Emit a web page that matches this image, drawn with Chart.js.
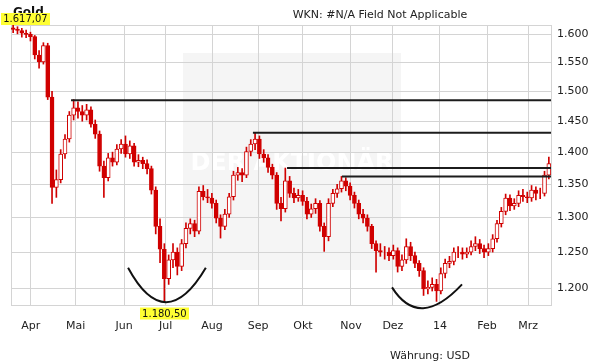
<!DOCTYPE html>
<html>
<head>
<meta charset="utf-8">
<script src="https://cdn.jsdelivr.net/npm/chart.js@4.4.1/dist/chart.umd.min.js"></script>
<style>
  html, body { margin: 0; padding: 0; background: #fff; }
  #wrap { position: relative; width: 611px; height: 364px; }
</style>
</head>
<body>
<div id="wrap"><canvas id="chart" width="611" height="364"></canvas></div>
<script>
// --- Gold, 1 Jahr, Kerzen je 2 Handelstage (USD) ---
const opens = [1612,1609,1607,1602,1600,1596,1563,1551,1580,1490,1345,1357,1397,1421,1460,1472,1466,1460,1469,1445,
  1429,1378,1360,1391,1384,1405,1413,1397,1410,1384,1387,1382,1374,1341,1287,1254,1213,1239,1250,1230,
  1262,1284,1291,1280,1339,1331,1329,1321,1299,1287,1305,1331,1364,1368,1364,1401,1413,1421,1397,1391,
  1376,1364,1321,1313,1355,1336,1329,1333,1324,1305,1313,1321,1287,1272,1321,1336,1343,1355,1347,1333,
  1321,1305,1299,1287,1262,1252,1250,1250,1245,1252,1230,1239,1258,1245,1234,1224,1199,1201,1205,1196,
  1220,1234,1237,1250,1250,1247,1250,1258,1262,1255,1250,1255,1269,1291,1309,1329,1317,1321,1333,1331,
  1329,1341,1336,1336,1364];
const highs = [1617.07,1614,1611,1608,1604,1598,1571,1585,1584,1500,1372,1404,1428,1466,1486,1482,1476,1478,1474,1452,
  1434,1386,1398,1400,1412,1420,1426,1418,1414,1396,1392,1388,1378,1346,1298,1262,1246,1262,1256,1268,
  1292,1298,1296,1346,1348,1342,1336,1326,1304,1312,1336,1370,1376,1374,1408,1420,1431,1426,1404,1396,
  1381,1368,1330,1375,1362,1344,1342,1340,1330,1320,1328,1325,1292,1328,1342,1350,1362,1360,1352,1338,
  1326,1312,1304,1290,1266,1262,1258,1256,1260,1256,1246,1269,1264,1250,1238,1228,1210,1214,1212,1228,
  1240,1244,1256,1258,1256,1256,1266,1272,1268,1260,1262,1275,1296,1315,1335,1334,1328,1340,1342,1338,
  1348,1346,1344,1370,1392];
const lows = [1603,1601,1595,1594,1588,1556,1540,1547,1486,1321,1330,1352,1390,1416,1452,1455,1450,1452,1440,1422,
  1370,1330,1355,1378,1380,1398,1392,1390,1378,1377,1374,1366,1335,1276,1235,1180.5,1205,1228,1218,1224,
  1256,1276,1272,1276,1326,1322,1314,1292,1270,1282,1300,1326,1356,1354,1360,1394,1404,1390,1384,1368,
  1358,1312,1295,1308,1330,1322,1324,1318,1298,1300,1306,1280,1251,1266,1316,1330,1338,1340,1326,1314,
  1298,1292,1280,1255,1222,1244,1240,1238,1240,1222,1224,1234,1238,1228,1216,1190,1192,1196,1182,1192,
  1214,1228,1232,1242,1240,1242,1246,1252,1248,1242,1245,1250,1264,1286,1304,1310,1312,1316,1324,1322,
  1324,1326,1328,1332,1358];
const closes = [1609,1607,1602,1600,1596,1563,1551,1580,1490,1345,1357,1397,1421,1460,1472,1466,1460,1469,1445,1429,
  1378,1360,1391,1384,1405,1413,1397,1410,1384,1387,1382,1374,1341,1287,1254,1213,1239,1250,1230,1262,
  1284,1291,1280,1339,1331,1329,1321,1299,1287,1305,1331,1364,1368,1364,1401,1413,1421,1397,1391,1376,
  1364,1321,1313,1355,1336,1329,1333,1324,1305,1313,1321,1287,1272,1321,1336,1343,1355,1347,1333,1321,
  1305,1299,1287,1262,1252,1250,1250,1245,1252,1230,1239,1258,1245,1234,1224,1199,1201,1205,1196,1220,
  1234,1237,1250,1250,1247,1250,1258,1262,1255,1250,1255,1269,1291,1309,1329,1317,1321,1333,1331,1329,
  1341,1336,1336,1364,1382];

// month ticks (position in candle index units)
const monthLabels = ['Apr','Mai','Jun','Jul','Aug','Sep','Okt','Nov','Dez','14','Feb','Mrz'];
const monthPos = [4.06,14.48,25.66,35.31,46.03,56.68,67.09,78.2,87.9,98.8,109.7,119.2];
const yTicks = [1200,1250,1300,1350,1400,1450,1500,1550,1600];

// Widerstandslinien: Start (Index) und Niveau
const resistStart = [13.4,55.5,63.4,76.1];
const resistLevel = [1485,1431,1375,1362];

// Boden-Boegen (Annotation)
const arcs = [
  { from: 26.6, to: 44.6, mid: 35.4, fromVal: 1228, toVal: 1228, low: 1181 },
  { from: 87.7, to: 103.9, mid: 94.9, fromVal: 1201, toVal: 1205, low: 1173 }
];

const RED = '#d00000';
const GRID = '#d4d4d4';

const fmtThousand = (v) => {
  const s = String(Math.round(v));
  return s.length > 3 ? s.slice(0, -3) + '.' + s.slice(-3) : s;
};
const fmtPrice = (v) => {
  const [i, d] = v.toFixed(2).split('.');
  return fmtThousand(+i) + ',' + d;
};

const idx = closes.map((_, i) => i);
const wickData = idx.map(i => ({ x: i, y: [lows[i], highs[i]] }));
const bodyData = idx.map(i => ({ x: i, y: [opens[i], closes[i]] }));
const bodyFill = idx.map(i => closes[i] >= opens[i] ? '#ffffff' : RED);

const resistSets = resistLevel.map((lvl, k) => ({
  type: 'line',
  data: [{ x: resistStart[k], y: lvl }, { x: 124.5, y: lvl }],
  borderColor: '#1c1c1c',
  borderWidth: 2,
  pointRadius: 0,
  order: 0
}));

const drawLabel = (ctx, text, cx, top) => {
  ctx.font = '10px "DejaVu Sans"';
  const w = ctx.measureText(text).width + 4;
  ctx.fillStyle = '#ffff33';
  ctx.fillRect(Math.round(cx - w / 2), top, Math.round(w), 12);
  ctx.fillStyle = '#111';
  ctx.textAlign = 'center';
  ctx.textBaseline = 'middle';
  ctx.fillText(text, cx, top + 6.5);
};

const decor = {
  id: 'decor',
  beforeDraw(chart) {
    const ctx = chart.ctx;
    ctx.save();
    ctx.fillStyle = '#f5f5f5';
    ctx.fillRect(183, 53, 218, 217);
    ctx.fillStyle = '#ffffff';
    ctx.font = 'bold 24px "DejaVu Sans"';
    ctx.textAlign = 'center';
    ctx.fillText('DER AKTIONÄR', 292, 170);
    ctx.restore();
  },
  beforeDatasetsDraw(chart) {
    const { ctx, chartArea: a } = chart;
    ctx.save();
    ctx.strokeStyle = GRID;
    ctx.lineWidth = 1;
    ctx.strokeRect(a.left + 0.5, a.top + 0.5, a.right - a.left, a.bottom - a.top);
    ctx.restore();
  },
  afterDatasetsDraw(chart) {
    const ctx = chart.ctx;
    const xs = chart.scales.x, ys = chart.scales.y;
    ctx.save();
    ctx.strokeStyle = '#111';
    ctx.lineWidth = 2;
    arcs.forEach(a => {
      const x0 = xs.getPixelForValue(a.from), y0 = ys.getPixelForValue(a.fromVal);
      const x2 = xs.getPixelForValue(a.to), y2 = ys.getPixelForValue(a.toVal);
      const bx = xs.getPixelForValue(a.mid), by = ys.getPixelForValue(a.low);
      const cx = 2 * bx - (x0 + x2) / 2, cy = 2 * by - (y0 + y2) / 2;
      ctx.beginPath();
      ctx.moveTo(x0, y0);
      ctx.quadraticCurveTo(cx, cy, x2, y2);
      ctx.stroke();
    });
    ctx.restore();
  },
  afterDraw(chart) {
    const ctx = chart.ctx;
    const xs = chart.scales.x, ys = chart.scales.y;
    ctx.save();
    // title
    ctx.fillStyle = '#111';
    ctx.font = 'bold 12px "DejaVu Sans"';
    ctx.textAlign = 'left';
    ctx.textBaseline = 'alphabetic';
    ctx.fillText('Gold', 13, 16);
    ctx.font = '11px "DejaVu Sans"';
    ctx.fillStyle = '#222';
    ctx.textAlign = 'center';
    ctx.fillText('WKN: #N/A Field Not Applicable', 380, 18);
    ctx.fillText('Währung: USD', 430, 359);

    // max / min labels
    const hi = Math.max(...highs), lo = Math.min(...lows);
    const iHi = highs.indexOf(hi), iLo = lows.indexOf(lo);
    const hiText = fmtPrice(hi);
    ctx.font = '10px "DejaVu Sans"';
    const wHi = ctx.measureText(hiText).width + 4;
    drawLabel(ctx, hiText, xs.getPixelForValue(iHi) - 12 + wHi / 2, ys.getPixelForValue(hi) - 12);
    drawLabel(ctx, fmtPrice(lo), xs.getPixelForValue(iLo), ys.getPixelForValue(lo) + 5);
    ctx.restore();
  }
};

Chart.defaults.font.family = '"DejaVu Sans"';
Chart.defaults.font.size = 11;
Chart.defaults.color = '#222';

new Chart(document.getElementById('chart'), {
  type: 'bar',
  data: {
    datasets: [
      {
        data: bodyData,
        backgroundColor: bodyFill,
        borderColor: RED,
        borderWidth: 1,
        borderSkipped: false,
        barThickness: 4,
        grouped: false,
        order: 1
      },
      {
        data: wickData,
        backgroundColor: RED,
        borderWidth: 0,
        barThickness: 1,
        grouped: false,
        order: 2
      },
      ...resistSets
    ]
  },
  options: {
    responsive: false,
    animation: false,
    events: [],
    layout: { padding: { left: 11, top: 25, right: 0, bottom: 0 } },
    plugins: { legend: { display: false }, tooltip: { enabled: false } },
    scales: {
      x: {
        type: 'linear',
        min: -0.5,
        max: 124.5,
        offset: false,
        grid: { color: GRID, drawTicks: false, offset: false },
        border: { color: GRID },
        afterBuildTicks: (s) => { s.ticks = monthPos.map(v => ({ value: v })); },
        afterFit: (s) => { s.height = 59; },
        ticks: {
          autoSkip: false,
          maxRotation: 0,
          padding: 15,
          callback: (v, i) => monthLabels[i]
        }
      },
      y: {
        type: 'logarithmic',
        position: 'right',
        min: 1177.2,
        max: 1617.1,
        grid: { color: GRID, drawTicks: false },
        border: { color: GRID },
        afterBuildTicks: (s) => { s.ticks = yTicks.map(v => ({ value: v })); },
        afterFit: (s) => { s.width = 60; },
        ticks: {
          autoSkip: false,
          padding: 6,
          callback: (v) => fmtThousand(v)
        }
      }
    }
  },
  plugins: [decor]
});
</script>
</body>
</html>
